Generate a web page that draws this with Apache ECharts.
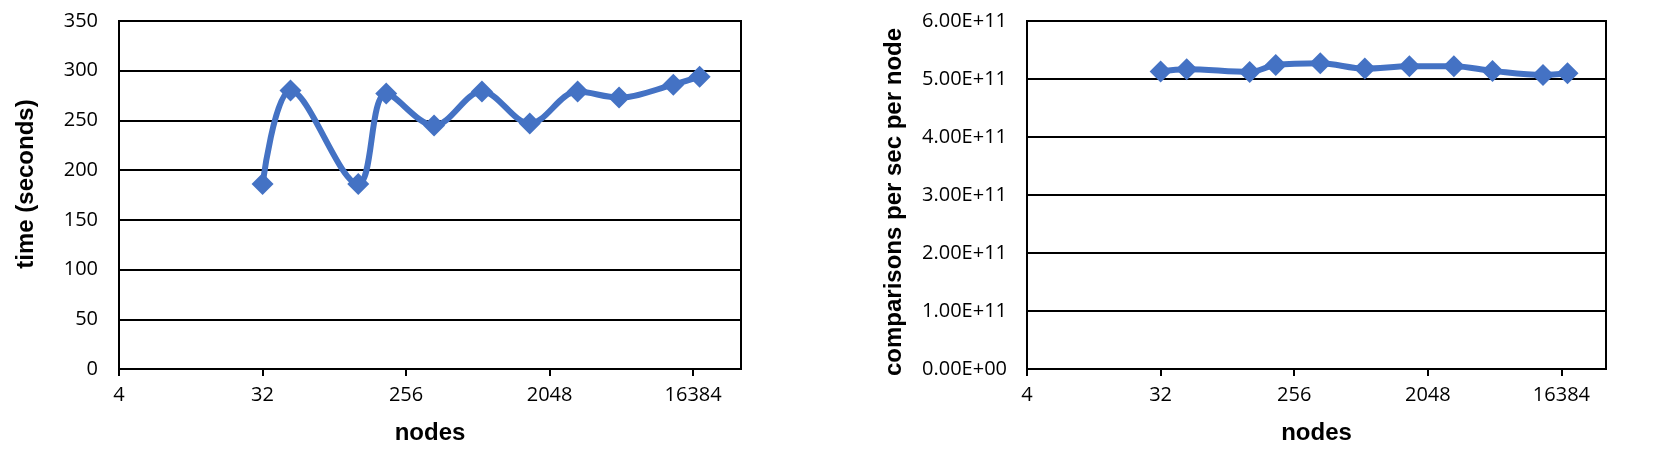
<!DOCTYPE html>
<html>
<head>
<meta charset="utf-8">
<script src="https://cdn.jsdelivr.net/npm/echarts@6/dist/echarts.min.js"></script>
<style>
  html, body { margin: 0; padding: 0; background: #fff; }
  #chart { width: 1658px; height: 467px; }
</style>
</head>
<body>
<div id="chart"></div>
<script>
// values
const nodes = [32, 48, 128, 192, 384, 768, 1536, 3072, 5600, 12288, 18000];
const timeSeconds = [186, 280, 186, 277, 245, 279, 247, 279, 273, 286, 294];
const comparisonsPerSecPerNode = [5.13e11, 5.17e11, 5.12e11, 5.24e11, 5.27e11, 5.18e11, 5.22e11, 5.22e11, 5.14e11, 5.07e11, 5.10e11];
const xTickLabels = [4, 32, 256, 2048, 16384];

const blue = "#4472C4";
const labelFont = "Open Sans";
const nameFont = "Liberation Sans";

const sciLabel = (v) => {
  const s = Number(v).toExponential(2).toUpperCase();
  const [m, e] = s.split("E");
  const sign = e[0] === "-" ? "-" : "+";
  const digits = e.replace(/[+-]/, "").padStart(2, "0");
  return m + "E" + sign + digits;
};

const xAxisFor = (gridIndex) => ({
  gridIndex,
  type: "log",
  logBase: 2,
  min: 4,
  max: 32768,
  interval: 3,
  name: "nodes",
  nameLocation: "middle",
  nameGap: 52,
  nameTextStyle: { fontFamily: nameFont, fontWeight: "bold", fontSize: 24, color: "#000" },
  axisLine: { show: true, lineStyle: { color: "#000", width: 2 } },
  axisTick: { show: true, length: 7, lineStyle: { color: "#000", width: 2 } },
  splitLine: { show: false },
  minorTick: { show: false },
  axisLabel: {
    margin: 16,
    fontFamily: labelFont,
    fontSize: 20,
    color: "#000",
    showMinLabel: true,
    showMaxLabel: false,
    formatter: (v) => (xTickLabels.includes(Math.round(v)) ? String(Math.round(v)) : ""),
  },
});

const gridLine = { show: true, lineStyle: { color: "#000", width: 2 } };

const chart = echarts.init(document.getElementById("chart"));
chart.setOption({
  animation: false,
  grid: [
    { left: 119, right: 917, top: 21, bottom: 98, show: true, borderColor: "#000", borderWidth: 2 },
    { left: 1027, right: 52, top: 21, bottom: 98, show: true, borderColor: "#000", borderWidth: 2 },
  ],
  xAxis: [xAxisFor(0), xAxisFor(1)],
  yAxis: [
    {
      gridIndex: 0,
      type: "value",
      min: 0,
      max: 350,
      interval: 50,
      name: "time (seconds)",
      nameLocation: "middle",
      nameGap: 81,
      nameTextStyle: { fontFamily: nameFont, fontWeight: "bold", fontSize: 24, color: "#000", padding: [0, 0, 0, 22] },
      axisLine: { show: true, lineStyle: { color: "#000", width: 2 } },
      axisTick: { show: false },
      splitLine: gridLine,
      axisLabel: { margin: 21, fontFamily: labelFont, fontSize: 20, color: "#000" },
    },
    {
      gridIndex: 1,
      type: "value",
      min: 0,
      max: 6e11,
      interval: 1e11,
      name: "comparisons per sec per node",
      nameLocation: "middle",
      nameGap: 121,
      nameTextStyle: { fontFamily: nameFont, fontWeight: "bold", fontSize: 24, color: "#000", padding: [0, 14, 0, 0] },
      axisLine: { show: true, lineStyle: { color: "#000", width: 2 } },
      axisTick: { show: false },
      splitLine: gridLine,
      axisLabel: { margin: 20, fontFamily: labelFont, fontSize: 20, color: "#000", formatter: sciLabel },
    },
  ],
  series: [
    {
      type: "line",
      xAxisIndex: 0,
      yAxisIndex: 0,
      data: nodes.map((n, i) => [n, timeSeconds[i]]),
      smooth: 0.35,
      symbol: "diamond",
      symbolSize: 22,
      lineStyle: { color: blue, width: 6 },
      itemStyle: { color: blue },
    },
    {
      type: "line",
      xAxisIndex: 1,
      yAxisIndex: 1,
      data: nodes.map((n, i) => [n, comparisonsPerSecPerNode[i]]),
      smooth: 0.35,
      symbol: "diamond",
      symbolSize: 22,
      lineStyle: { color: blue, width: 6 },
      itemStyle: { color: blue },
    },
  ],
});
</script>
</body>
</html>
